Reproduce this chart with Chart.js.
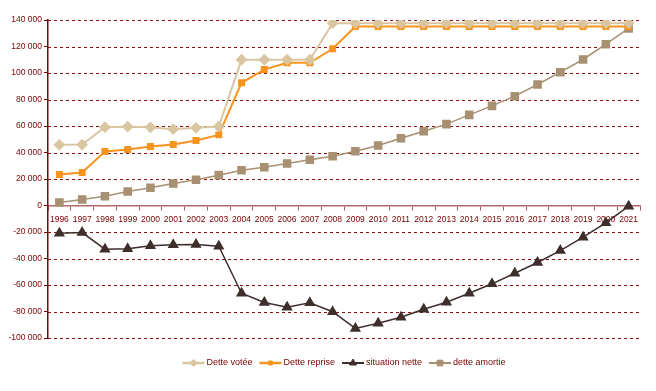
<!DOCTYPE html>
<html>
<head>
<meta charset="utf-8">
<script src="https://cdn.jsdelivr.net/npm/chart.js@4.4.1/dist/chart.umd.min.js"></script>
<style>
  html, body { margin: 0; padding: 0; background: #fff; }
  #wrap { width: 656px; height: 391px; }
</style>
</head>
<body>
<div id="wrap"><canvas id="chart" width="656" height="391"></canvas></div>
<script>
const years = ['1996', '1997', '1998', '1999', '2000', '2001', '2002', '2003', '2004', '2005', '2006', '2007', '2008',
    '2009', '2010', '2011', '2012', '2013', '2014', '2015', '2016', '2017', '2018', '2019', '2020', '2021'];

const detteVotee = [45800, 46000, 59100, 59500, 59000, 57600, 58600, 59600, 110000, 110000, 110000, 110000, 137600,
    137600, 137600, 137600, 137600, 137600, 137600, 137600, 137600, 137600, 137600, 137600, 137600, 137600];
const detteReprise = [23400, 24900, 40800, 42300, 44500, 46000, 49000, 53300, 92600, 102600, 107700, 107700, 118300,
    135100, 135100, 135100, 135100, 135100, 135100, 135100, 135100, 135100, 135100, 135100, 135100, 135100];
const situationNette = [-20900, -20400, -33000, -32700, -30400, -29700, -29400, -30700, -66200, -73200, -76700, -73400, -80200,
    -92800, -88800, -84300, -78300, -73000, -66200, -59100, -51100, -43000, -34000, -23900, -13100, -500];
const detteAmortie = [2300, 4500, 7000, 10600, 13400, 16600, 19400, 22900, 26600, 28900, 31700, 34500, 37200,
    41000, 45300, 50800, 56100, 61400, 68400, 75200, 82500, 91300, 100600, 110200, 121700, 133600];

const yMin = -100000;
const yMax = 140000;
const yStep = 20000;

const darkRed = '#7a0000';
const fontFamily = '"Liberation Sans", Arial, sans-serif';

// thousands with a space, like "140 000"
function fmt(v) {
    const s = Math.abs(v).toString().replace(/\B(?=(\d{3})+(?!\d))/g, ' ');
    return (v < 0 ? '-' : '') + s;
}

// dashed horizontal gridlines, drawn under the datasets
const dashedGrid = {
    id: 'dashedGrid',
    beforeDatasetsDraw(chart) {
        const ctx = chart.ctx;
        const area = chart.chartArea;
        const y = chart.scales.y;
        ctx.save();
        ctx.strokeStyle = '#8c1010';
        ctx.lineWidth = 1;
        ctx.setLineDash([3, 3]);
        y.ticks.forEach(t => {
            if (t.value === 0) return;
            const py = Math.round(y.getPixelForValue(t.value)) + 0.5;
            ctx.beginPath();
            ctx.moveTo(area.left, py);
            ctx.lineTo(area.right, py);
            ctx.stroke();
        });
        ctx.restore();
    }
};

// Legend drawn by hand: line + marker + text
const lineLegend = {
    id: 'lineLegend',
    afterDraw(chart) {
        const ctx = chart.ctx;
        const area = chart.chartArea;
        const y = 363;
        const lineLen = 22;
        const gap = 2;
        const spacing = 7;
        ctx.save();
        ctx.font = '9px ' + fontFamily;
        ctx.textBaseline = 'middle';
        const items = chart.data.datasets.map(ds => ({ ds, w: lineLen + gap + ctx.measureText(ds.label).width }));
        const total = items.reduce((s, it) => s + it.w, 0) + spacing * (items.length - 1);
        let x = (area.left + area.right) / 2 - total / 2;
        items.forEach(it => {
            const ds = it.ds;
            ctx.strokeStyle = ds.borderColor;
            ctx.lineWidth = ds.borderWidth + 0.5;
            ctx.beginPath();
            ctx.moveTo(x, y);
            ctx.lineTo(x + lineLen, y);
            ctx.stroke();
            ctx.fillStyle = ds.pointBackgroundColor;
            ctx.strokeStyle = ds.pointBorderColor;
            ctx.lineWidth = 1;
            Chart.helpers.drawPoint(ctx, { pointStyle: ds.pointStyle, radius: ds.pointRadius * 0.8, borderWidth: 1, rotation: 0 }, x + lineLen / 2, y);
            ctx.fillStyle = darkRed;
            ctx.fillText(ds.label, x + lineLen + gap, y);
            x += it.w + spacing;
        });
        ctx.restore();
    }
};

document.addEventListener('DOMContentLoaded', () => {
    const ctx = document.getElementById('chart').getContext('2d');
    new Chart(ctx, {
        type: 'line',
        data: {
            labels: years,
            datasets: [{
                label: 'Dette votée',
                data: detteVotee,
                borderColor: '#d9c6a0',
                backgroundColor: '#d9c6a0',
                pointBackgroundColor: '#d9c6a0',
                pointBorderColor: '#d9c6a0',
                pointStyle: 'rectRot',
                pointRadius: 4.5,
                borderWidth: 2
            }, {
                label: 'Dette reprise',
                data: detteReprise,
                borderColor: '#f7941d',
                backgroundColor: '#f7941d',
                pointBackgroundColor: '#f7941d',
                pointBorderColor: '#f7941d',
                pointStyle: 'rect',
                pointRadius: 3.5,
                borderWidth: 2
            }, {
                label: 'situation nette',
                data: situationNette,
                borderColor: '#3e2e2c',
                backgroundColor: '#3e2e2c',
                pointBackgroundColor: '#3e2e2c',
                pointBorderColor: '#3e2e2c',
                pointStyle: 'triangle',
                pointRadius: 5,
                borderWidth: 1.5
            }, {
                label: 'dette amortie',
                data: detteAmortie,
                borderColor: '#a89072',
                backgroundColor: '#a89072',
                pointBackgroundColor: '#a89072',
                pointBorderColor: '#a89072',
                pointStyle: 'rect',
                pointRadius: 5,
                borderWidth: 1.5
            }]
        },
        options: {
            responsive: false,
            animation: false,
            layout: { padding: { left: 0, right: 16, top: 20, bottom: 53 } },
            plugins: {
                legend: { display: false },
                tooltip: { enabled: false }
            },
            scales: {
                x: {
                    position: { y: 0 },
                    offset: true,
                    grid: {
                        offset: true,
                        drawOnChartArea: false,
                        drawTicks: true,
                        tickLength: 4,
                        tickColor: '#a85a5a'
                    },
                    border: { color: '#b06a6a', width: 1.5 },
                    ticks: {
                        color: darkRed,
                        font: { family: fontFamily, size: 8.5 },
                        maxRotation: 0,
                        autoSkip: false,
                        padding: 5
                    }
                },
                y: {
                    min: yMin,
                    max: yMax,
                    afterFit(scale) { scale.width = 48; },
                    grid: {
                        drawOnChartArea: false,
                        tickLength: 4,
                        tickColor: darkRed
                    },
                    border: { color: darkRed, width: 1.5 },
                    ticks: {
                        stepSize: yStep,
                        color: darkRed,
                        font: { family: fontFamily, size: 8.5 },
                        padding: 2,
                        callback: v => fmt(v)
                    }
                }
            }
        },
        plugins: [dashedGrid, lineLegend]
    });
});
</script>
</body>
</html>
